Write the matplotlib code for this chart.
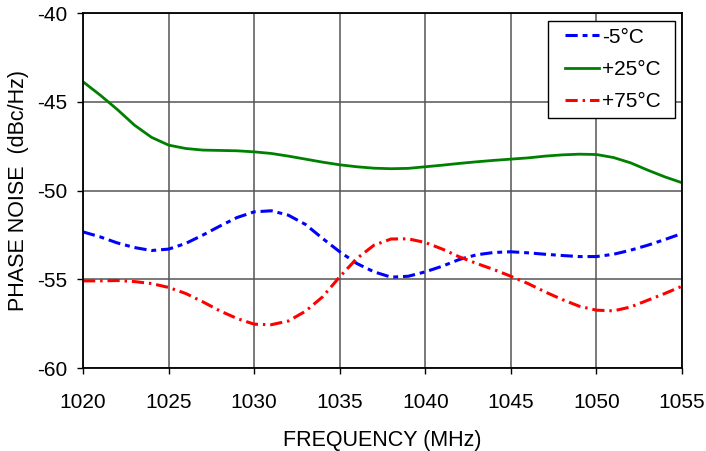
import numpy as np
import matplotlib
matplotlib.use("Agg")
import matplotlib.pyplot as plt
from matplotlib.patches import Rectangle

plt.rcParams['font.family'] = ['Liberation Sans', 'DejaVu Sans']
plt.rcParams['axes.unicode_minus'] = False

# frequency points (MHz)
freq = list(range(1020, 1056))

# phase noise at -5 C (dBc/Hz)
minus5 = [-52.33, -52.61, -52.95, -53.21, -53.38, -53.30, -52.98, -52.51, -52.00, -51.52,
          -51.20, -51.14, -51.39, -51.91, -52.70, -53.45, -54.11, -54.58, -54.88, -54.83,
          -54.58, -54.26, -53.88, -53.62, -53.49, -53.45, -53.51, -53.59, -53.66, -53.72,
          -53.72, -53.59, -53.36, -53.08, -52.76, -52.42]

# phase noise at +25 C
plus25 = [-43.87, -44.62, -45.43, -46.31, -47.00, -47.44, -47.63, -47.72, -47.74, -47.76,
          -47.82, -47.91, -48.06, -48.23, -48.40, -48.55, -48.66, -48.74, -48.77, -48.75,
          -48.66, -48.57, -48.47, -48.38, -48.30, -48.23, -48.16, -48.06, -47.99, -47.95,
          -47.97, -48.14, -48.44, -48.85, -49.23, -49.56]

# phase noise at +75 C
plus75 = [-55.09, -55.09, -55.07, -55.13, -55.24, -55.46, -55.80, -56.27, -56.78, -57.21,
          -57.53, -57.56, -57.35, -56.80, -55.99, -54.86, -53.83, -53.08, -52.73, -52.72,
          -52.93, -53.30, -53.74, -54.11, -54.45, -54.83, -55.24, -55.71, -56.14, -56.52,
          -56.74, -56.78, -56.56, -56.18, -55.80, -55.39]

labels = ['-5°C', '+25°C', '+75°C']

fig = plt.figure(figsize=(7.06, 4.51), dpi=100)
ax = fig.add_axes([0.1176, 0.184, 0.8484, 0.787])

ax.plot(freq, minus5, color='#0000ff', lw=2.2, dashes=(4, 1.6, 1.6, 1.6), label=labels[0])
ax.plot(freq, plus25, color='#008000', lw=2.0, label=labels[1])
ax.plot(freq, plus75, color='#ff0000', lw=2.2, dashes=(4, 1.6, 0.8, 1.6), label=labels[2])

ax.set_xlim(1020, 1055)
ax.set_ylim(-60, -40)
ax.set_xticks(np.arange(1020, 1056, 5))
ax.set_yticks(np.arange(-60, -39, 5))
ax.grid(True, color='#555555', lw=1.1)
ax.set_axisbelow(True)

for s in ax.spines.values():
    s.set_color('black')
    s.set_linewidth(1.3)

ax.tick_params(axis='both', direction='out', length=4, width=1, labelsize=15)
ax.tick_params(axis='x', pad=14)
ax.tick_params(axis='y', pad=7)
ax.set_xlabel('FREQUENCY (MHz)', fontsize=15.5, labelpad=13)
ax.set_ylabel('PHASE NOISE  (dBc/Hz)', fontsize=15.5, labelpad=6)

# legend box drawn separately so the padding can be wider than tall
box = Rectangle((0.776, 0.704), 0.212, 0.2735, transform=ax.transAxes,
                facecolor='white', edgecolor='black', lw=1.0, zorder=4)
ax.add_patch(box)
leg = ax.legend(loc='upper left', bbox_to_anchor=(0.8047, 0.9586), fontsize=15,
                frameon=False, handlelength=1.63, borderpad=0, labelspacing=0.63,
                handletextpad=0.13, borderaxespad=0)
leg.set_zorder(5)

fig.savefig('out.png', dpi=100)
